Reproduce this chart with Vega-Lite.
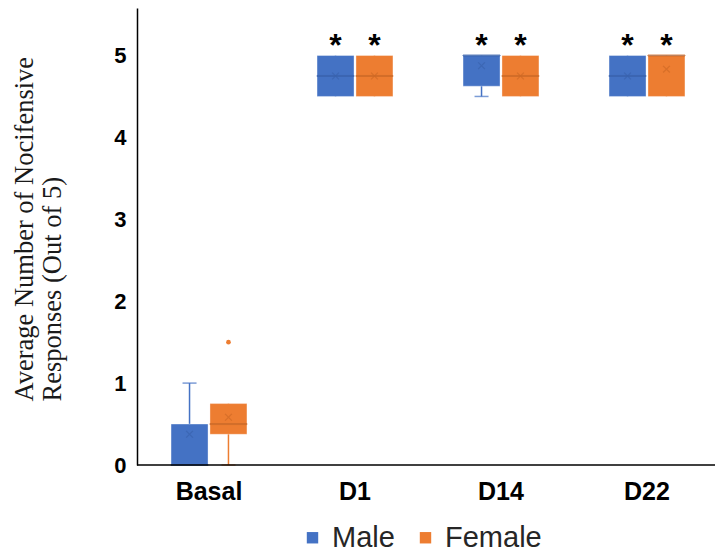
{
  "$schema": "https://vega.github.io/schema/vega-lite/v6.json",
  "width": 578,
  "height": 457,
  "autosize": {"type": "none"},
  "padding": {"left": 137, "top": 8, "right": 0, "bottom": 89},
  "background": "white",
  "config": {"view": {"stroke": null}},
  "datasets": {
    "boxes": [
      {"day": "Basal", "sex": "Male", "q1": 0, "q3": 0.5, "median": 0, "mean": 0.375, "lo": 0, "hi": 1},
      {"day": "Basal", "sex": "Female", "q1": 0.375, "q3": 0.75, "median": 0.5, "mean": 0.583, "lo": 0, "hi": 0.75},
      {"day": "D1", "sex": "Male", "q1": 4.5, "q3": 5, "median": 4.75, "mean": 4.75, "lo": 4.5, "hi": 5},
      {"day": "D1", "sex": "Female", "q1": 4.5, "q3": 5, "median": 4.75, "mean": 4.75, "lo": 4.5, "hi": 5},
      {"day": "D14", "sex": "Male", "q1": 4.625, "q3": 5, "median": 5, "mean": 4.875, "lo": 4.5, "hi": 5},
      {"day": "D14", "sex": "Female", "q1": 4.5, "q3": 5, "median": 4.75, "mean": 4.75, "lo": 4.5, "hi": 5},
      {"day": "D22", "sex": "Male", "q1": 4.5, "q3": 5, "median": 4.75, "mean": 4.75, "lo": 4.5, "hi": 5},
      {"day": "D22", "sex": "Female", "q1": 4.5, "q3": 5, "median": 5, "mean": 4.833, "lo": 4.5, "hi": 5}
    ],
    "caps": [
      {"day": "Basal", "sex": "Male", "v": 1},
      {"day": "Basal", "sex": "Female", "v": 0},
      {"day": "D14", "sex": "Male", "v": 4.5}
    ],
    "outliers": [
      {"day": "Basal", "sex": "Female", "v": 1.5}
    ],
    "stars": [
      {"day": "D1", "sex": "Male"},
      {"day": "D1", "sex": "Female"},
      {"day": "D14", "sex": "Male"},
      {"day": "D14", "sex": "Female"},
      {"day": "D22", "sex": "Male"},
      {"day": "D22", "sex": "Female"}
    ]
  },
  "encoding": {
    "x": {
      "field": "day",
      "type": "nominal",
      "sort": ["Basal", "D1", "D14", "D22"],
      "scale": {"domain": ["Basal", "D1", "D14", "D22"], "range": [-1, 583], "paddingInner": 0.48, "paddingOuter": 0.24},
      "axis": {
        "title": null,
        "domain": false,
        "ticks": false,
        "labelAngle": 0,
        "labelFont": "Liberation Sans",
        "labelFontWeight": "bold",
        "labelFontSize": 25,
        "labelColor": "#000000",
        "labelPadding": 14
      }
    },
    "xOffset": {
      "field": "sex",
      "type": "nominal",
      "scale": {"domain": ["Male", "Female"], "paddingInner": 0.05, "paddingOuter": 0}
    }
  },
  "layer": [
    {
      "data": {"name": "boxes"},
      "mark": {"type": "rule", "strokeWidth": 1.5},
      "encoding": {
        "y": {
          "field": "lo",
          "type": "quantitative",
          "scale": {"domain": [0, 5.58], "nice": false, "zero": true},
          "axis": {
            "values": [0, 1, 2, 3, 4, 5],
            "format": "d",
            "grid": false,
            "ticks": false,
            "domainColor": "#000000",
            "domainWidth": 1.5,
            "labelFont": "Liberation Sans",
            "labelFontWeight": "bold",
            "labelFontSize": 22,
            "labelColor": "#000000",
            "labelPadding": 11,
            "title": ["Average Number of Nocifensive", "Responses (Out of 5)"],
            "titleFont": "Liberation Serif",
            "titleFontWeight": "normal",
            "titleFontSize": 26.5,
            "titleColor": "#1a1a1a",
            "titleLineHeight": 28,
            "titleAngle": -90,
            "titleAlign": "left",
            "titleBaseline": "top",
            "titleX": -126,
            "titleY": 393
          }
        },
        "y2": {"field": "hi"},
        "color": {
          "field": "sex",
          "type": "nominal",
          "scale": {"domain": ["Male", "Female"], "range": ["#4472C4", "#ED7D31"]},
          "legend": {
            "title": null,
            "orient": "none",
            "direction": "horizontal",
            "legendX": 161,
            "legendY": 515,
            "symbolType": "square",
            "symbolSize": 130,
            "symbolOpacity": 1,
            "symbolStrokeWidth": 0,
            "labelFont": "Liberation Sans",
            "labelFontSize": 29,
            "labelColor": "#262626",
            "labelOffset": 5,
            "columnPadding": 16,
            "encode": {
              "symbols": {"update": {"opacity": {"value": 1}, "fillOpacity": {"value": 1}, "strokeOpacity": {"value": 0}}}
            }
          }
        }
      }
    },
    {
      "data": {"name": "caps"},
      "mark": {"type": "tick", "size": 14, "thickness": 1.5},
      "encoding": {
        "y": {"field": "v", "type": "quantitative"},
        "color": {"field": "sex", "type": "nominal"}
      }
    },
    {
      "data": {"name": "boxes"},
      "mark": {"type": "bar", "stroke": "#ffffff", "strokeOpacity": 0.35, "strokeWidth": 1},
      "encoding": {
        "y": {"field": "q1", "type": "quantitative"},
        "y2": {"field": "q3"},
        "color": {"field": "sex", "type": "nominal"}
      }
    },
    {
      "data": {"name": "boxes"},
      "mark": {"type": "tick", "thickness": 1, "size": 37, "opacity": 0.8},
      "encoding": {
        "y": {"field": "median", "type": "quantitative"},
        "stroke": {
          "field": "sex",
          "type": "nominal",
          "scale": {"domain": ["Male", "Female"], "range": ["#3A63AE", "#CF6A26"]},
          "legend": null
        }
      }
    },
    {
      "data": {"name": "boxes"},
      "mark": {"type": "point", "shape": "M-1,-1L1,1M1,-1L-1,1", "filled": false, "size": 45, "strokeWidth": 1.2},
      "encoding": {
        "y": {"field": "mean", "type": "quantitative"},
        "stroke": {"field": "sex", "type": "nominal", "legend": null}
      }
    },
    {
      "data": {"name": "outliers"},
      "mark": {"type": "point", "shape": "circle", "filled": true, "size": 22, "opacity": 1},
      "encoding": {
        "y": {"field": "v", "type": "quantitative"},
        "color": {"field": "sex", "type": "nominal"}
      }
    },
    {
      "data": {"name": "stars"},
      "mark": {"type": "text", "text": "*", "font": "Liberation Sans", "fontWeight": "bold", "fontSize": 32, "baseline": "alphabetic", "align": "center", "color": "#000000"},
      "encoding": {
        "y": {"datum": 5.0}
      }
    },
    {
      "data": {"values": [{}]},
      "mark": {"type": "rule", "color": "#000000", "strokeWidth": 1.5},
      "encoding": {"y": {"datum": 0}, "x": null, "xOffset": null}
    }
  ]
}
